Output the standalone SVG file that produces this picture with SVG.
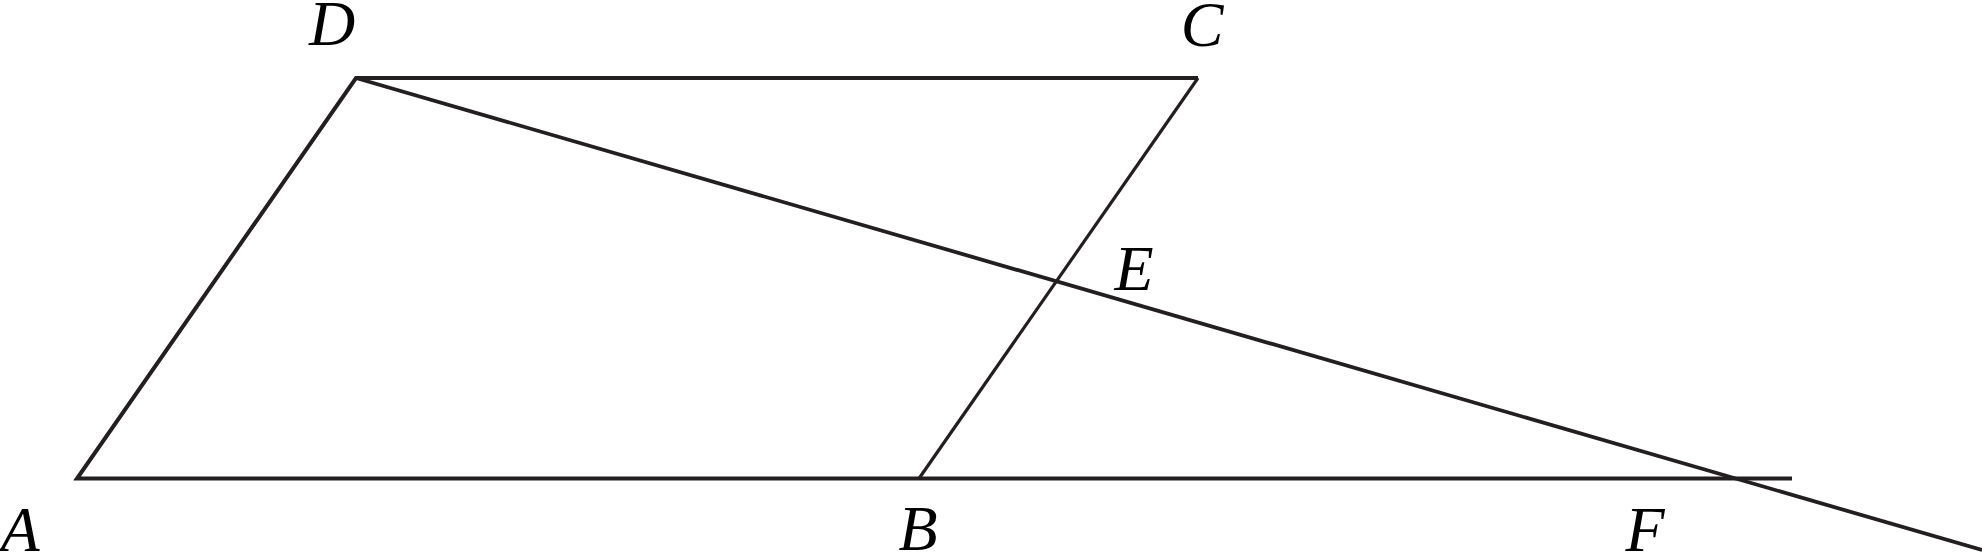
<svg xmlns="http://www.w3.org/2000/svg" width="1982" height="554" viewBox="0 0 1982 554">
<style>
.ln{stroke:#231f20;fill:none;stroke-linecap:butt;stroke-linejoin:miter}
.lb{font-family:"Liberation Serif","Times New Roman",serif;font-style:italic;font-size:64px;fill:#000;text-anchor:middle}
</style>
<rect width="1982" height="554" fill="#fff"/>
<g id="connectors">
<polyline class="ln" stroke-width="4" points="1792,478.5 77,478.5 356,78 1198,78"/>
<line class="ln" stroke-width="3.2" x1="1198" y1="78" x2="919" y2="478.5"/>
<line class="ln" stroke-width="3.8" x1="356" y1="78" x2="1982" y2="550"/>
</g>
<g id="node-A"><text class="lb" x="20" y="551">A</text></g>
<g id="node-B"><text class="lb" x="918" y="550">B</text></g>
<g id="node-C"><text class="lb" x="1202" y="46">C</text></g>
<g id="node-D"><text class="lb" x="332" y="45">D</text></g>
<g id="node-E"><text class="lb" x="1134" y="290">E</text></g>
<g id="node-F"><text class="lb" x="1645" y="551">F</text></g>
</svg>
